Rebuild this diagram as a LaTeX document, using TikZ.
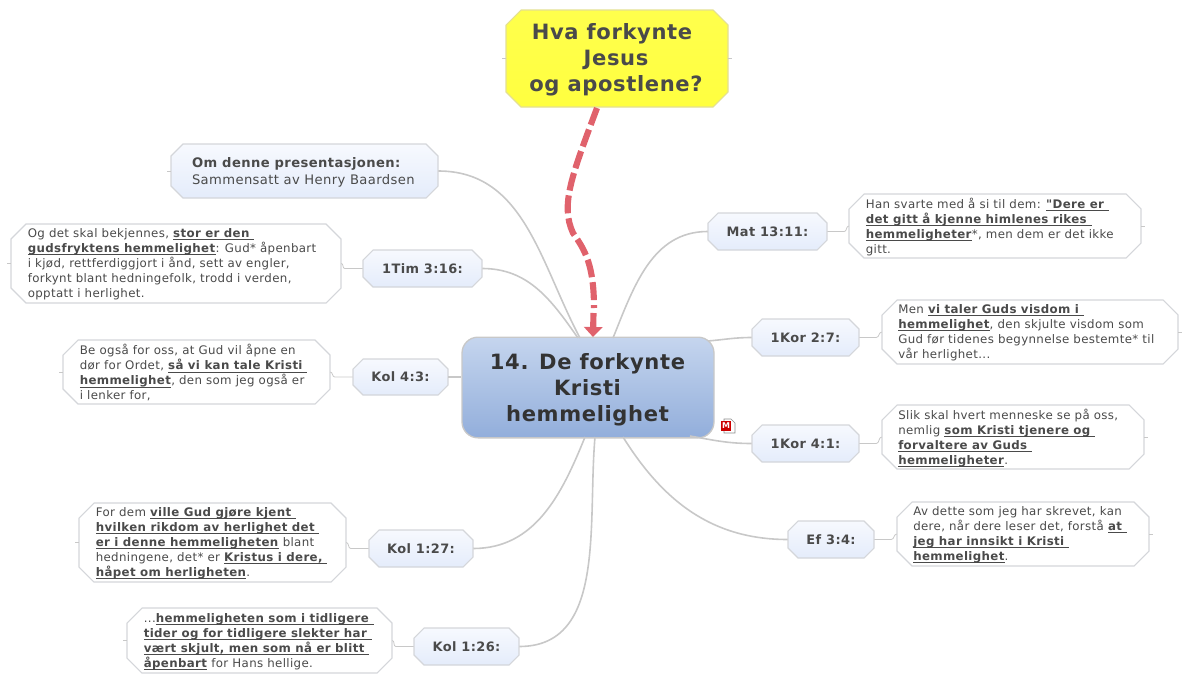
\documentclass[tikz,border=0pt]{standalone}
\usepackage{fontspec}
\setmainfont[LetterSpace=3,Ligatures=TeXOff]{DejaVu Sans}
\usetikzlibrary{arrows.meta}
\definecolor{textoGris}{HTML}{4A4A4A}
\definecolor{textoTema}{HTML}{333333}
\definecolor{gris}{HTML}{C8C8C8}
\definecolor{borde}{HTML}{D4D6DA}
\definecolor{rojoFlecha}{HTML}{E0626C}
\definecolor{azulA}{HTML}{F7F9FE}
\definecolor{azulB}{HTML}{E4ECFB}
\definecolor{azulC}{HTML}{C5D5EE}
\definecolor{azulD}{HTML}{92AEDB}
\newcommand{\Res}[1]{\leavevmode\setbox0\hbox{\textbf{#1}}\rlap{\vrule width\wd0 height -1.2pt depth 1.8pt}\box0{}}
\newcommand{\Caja}[7][]{%
  \pgfmathsetmacro{\cx}{(#4+#6)/2}
  \pgfmathsetmacro{\cy}{(#5+#7)/2}
  \pgfmathsetmacro{\cw}{(#6-#4)*0.75}
  \pgfmathsetmacro{\ch}{(#7-#5)*0.75}
  \draw[line width=0.8pt,#1] (#4+#3,#5) -- (#6-#3,#5) -- (#6,#5+#3) -- (#6,#7-#3)
    -- (#6-#3,#7) -- (#4+#3,#7) -- (#4,#7-#3) -- (#4,#5+#3) -- cycle;
  \node[inner sep=0pt,minimum width=\cw pt,minimum height=\ch pt] (#2) at (\cx,\cy) {};
}
\tikzset{
  etiqueta/.style={draw=borde,top color=azulA,bottom color=azulB},
  nota/.style={draw=borde,fill=white},
  txtEtiqueta/.style={inner sep=0pt,text=textoGris,font=\fontsize{9.7}{12}\selectfont\bfseries},
  txtNota/.style={anchor=west,yshift=-0.7pt,inner sep=0pt,text=textoGris,align=left,font=\fontsize{8.85}{11.25}\selectfont},
  txtGrande/.style={align=center,font=\fontsize{15.8}{19.6}\selectfont\bfseries},
  rama/.style={gris,line width=1.2pt},
  enlace/.style={gris,line width=0.6pt},
  flecha/.style={rojoFlecha,line width=4.6pt},
}
\begin{document}
\begin{tikzpicture}[x=0.75pt,y=-0.75pt]
  \useasboundingbox (0,0) rectangle (1190,682);

  % ramas
  \coordinate (rOm) at (580,338);
  \coordinate (rTim) at (578,338);
  \coordinate (rMat) at (613,338);
  \coordinate (rKorA) at (708,341);
  \coordinate (rKorB) at (690,436);
  \coordinate (rEf) at (623,437);
  \coordinate (rKolA) at (585,437);
  \coordinate (rKolB) at (595,437);

  \Caja[draw=yellow!60!gray!60,top color=yellow!70,bottom color=yellow!75]{tema}{15}{506}{10}{728}{107}
  \node[txtGrande,text=textoGris] (temaT) at (616,60) {Hva forkynte\ \null\\Jesus\\og apostlene?};
  \node[rounded corners=12pt,draw=gris,line width=1pt,top color=azulC,middle color=azulD,bottom color=azulD,
    minimum width=189pt,minimum height=75.5pt] (centro) at (588,387.5) {};
  \node[txtGrande,text=textoTema] (centroT) at (587.5,389.5) {14. De forkynte\\Kristi\\hemmelighet};

  \Caja[etiqueta]{om}{12}{171}{144}{438}{198}
  \node[txtNota,font=\fontsize{9.85}{12.75}\selectfont] (omT) at ([xshift=15.75pt]om.west) {\textbf{Om denne presentasjonen:}\\Sammensatt av Henry Baardsen};

  \Caja[etiqueta]{tim}{10}{363}{250}{482}{287}
  \Caja[etiqueta]{kolC}{10}{353}{359}{448}{395}
  \Caja[etiqueta]{kolB}{10}{369}{530}{473}{567}
  \Caja[etiqueta]{kolA}{10}{414}{628}{519}{665}
  \Caja[etiqueta]{mat}{10}{708}{213}{827}{250}
  \Caja[etiqueta]{korA}{10}{752}{319}{859}{356}
  \Caja[etiqueta]{korB}{10}{752}{425}{859}{462}
  \Caja[etiqueta]{ef}{10}{788}{521}{874}{558}
  \foreach \n/\t in {tim/1Tim 3:16:,kolC/Kol 4:3:,kolB/Kol 1:27:,kolA/Kol 1:26:,mat/Mat 13:11:,korA/1Kor 2:7:,korB/1Kor 4:1:,ef/Ef 3:4:} {
    \node[txtEtiqueta] (\n T) at (\n) {\t};
  }

  \Caja[nota]{nTim}{15}{11}{224}{341}{303}
  \node[txtNota] (nTimT) at ([xshift=12.6pt]nTim.west) {Og det skal bekjennes, \Res{stor er den\ }\\\Res{gudsfryktens hemmelighet}: Gud* åpenbart\\i kjød, rettferdiggjort i ånd, sett av engler,\\forkynt blant hedningefolk, trodd i verden,\\opptatt i herlighet.};
  \Caja[nota]{nKolC}{15}{63}{340}{330}{404}
  \node[txtNota] (nKolCT) at ([xshift=12.6pt]nKolC.west) {Be også for oss, at Gud vil åpne en\\dør for Ordet, \Res{så vi kan tale Kristi\ }\\\Res{hemmelighet}, den som jeg også er\\i lenker for,};
  \Caja[nota]{nKolB}{15}{79}{503}{346}{582}
  \node[txtNota] (nKolBT) at ([xshift=12.6pt]nKolB.west) {For dem \Res{ville Gud gjøre kjent\ }\\\Res{hvilken rikdom av herlighet det\ }\\\Res{er i denne hemmeligheten} blant\\hedningene, det* er \Res{Kristus i dere,\ }\\\Res{håpet om herligheten}.};
  \Caja[nota]{nKolA}{15}{127}{608}{392}{673}
  \node[txtNota] (nKolAT) at ([xshift=12.6pt]nKolA.west) {...\Res{hemmeligheten som i tidligere\ }\\\Res{tider og for tidligere slekter har\ }\\\Res{vært skjult, men som nå er blitt\ }\\\Res{åpenbart} for Hans hellige.};
  \Caja[nota]{nMat}{15}{849}{194}{1141}{258}
  \node[txtNota] (nMatT) at ([xshift=12.6pt]nMat.west) {Han svarte med å si til dem: \Res{"Dere er\ }\\\Res{det gitt å kjenne himlenes rikes\ }\\\Res{hemmeligheter}*, men dem er det ikke\\gitt.};
  \Caja[nota]{nKorA}{15}{882}{300}{1178}{364}
  \node[txtNota] (nKorAT) at ([xshift=12.2pt]nKorA.west) {Men \Res{vi taler Guds visdom i\ }\\\Res{hemmelighet}, den skjulte visdom som\\Gud før tidenes begynnelse bestemte* til\\vår herlighet...};
  \Caja[nota]{nKorB}{15}{882}{405}{1144}{469}
  \node[txtNota] (nKorBT) at ([xshift=12.2pt]nKorB.west) {Slik skal hvert menneske se på oss,\\nemlig \Res{som Kristi tjenere og\ }\\\Res{forvaltere av Guds\ }\\\Res{hemmeligheter}.};
  \Caja[nota]{nEf}{15}{897}{502}{1149}{566}
  \node[txtNota] (nEfT) at ([xshift=12.2pt]nEf.west) {Av dette som jeg har skrevet, kan\\dere, når dere leser det, forstå \Res{at\ }\\\Res{jeg har innsikt i Kristi\ }\\\Res{hemmelighet}.};

  \draw[rama] (om.east) to[out=0,in=118] (rOm);
  \draw[rama] (tim.east) to[out=0,in=125] (rTim);
  \draw[rama] (kolC.east) -- (centro.west |- kolC.east);
  \draw[rama] (kolB.east) to[out=0,in=-112] (rKolA);
  \draw[rama] (kolA.east) to[out=0,in=-95] (rKolB);
  \draw[rama] (mat.west) to[out=180,in=68] (rMat);
  \draw[rama] (korA.west) to[out=180,in=5] (rKorA);
  \draw[rama] (korB.west) to[out=180,in=-10] (rKorB);
  \draw[rama] (ef.west) to[out=180,in=-58] (rEf);

  \foreach \a/\b in {tim/nTim,kolC/nKolC,kolB/nKolB,kolA/nKolA} {
    \draw[enlace] (\a.west) -- ++(-18,0) to[out=180,in=0] (\b.east);
  }
  \foreach \a/\b in {mat/nMat,korA/nKorA,korB/nKorB,ef/nEf} {
    \draw[enlace] (\a.east) -- ++(17,0) to[out=0,in=180] (\b.west);
  }
  \foreach \b in {nTim,nKolC,nKolB,nKolA,om,tema} {
    \draw[enlace] (\b.west) -- ++(-4,0);
  }
  \foreach \b in {nMat,nKorA,nKorB,nEf,tema} {
    \draw[enlace] (\b.east) -- ++(4,0);
  }

  \coordinate (fin) at (593,337);
  \coordinate (antes) at (593.5,313);
  \draw[flecha,dash pattern=on 13.5pt off 3.75pt]
    (597,108) .. controls (572,175) and (560,205) .. (573,233)
    .. controls (585,250) and (594,265) .. (594,308);
  \draw[flecha,-{Triangle[length=7.5pt,width=13.75pt]}] (antes) -- (fin);

  % icono
  \draw[gris!70!black,fill=white,line width=0.5pt] (724,419) -- (731,419) -- (735,423) -- (735,433) -- (724,433) -- cycle;
  \node[fill=red!80!black,text=white,font=\fontsize{6}{6}\selectfont\bfseries,inner sep=0.6pt,minimum size=7.5pt] (icono) at (726,426) {M};
\end{tikzpicture}
\end{document}
